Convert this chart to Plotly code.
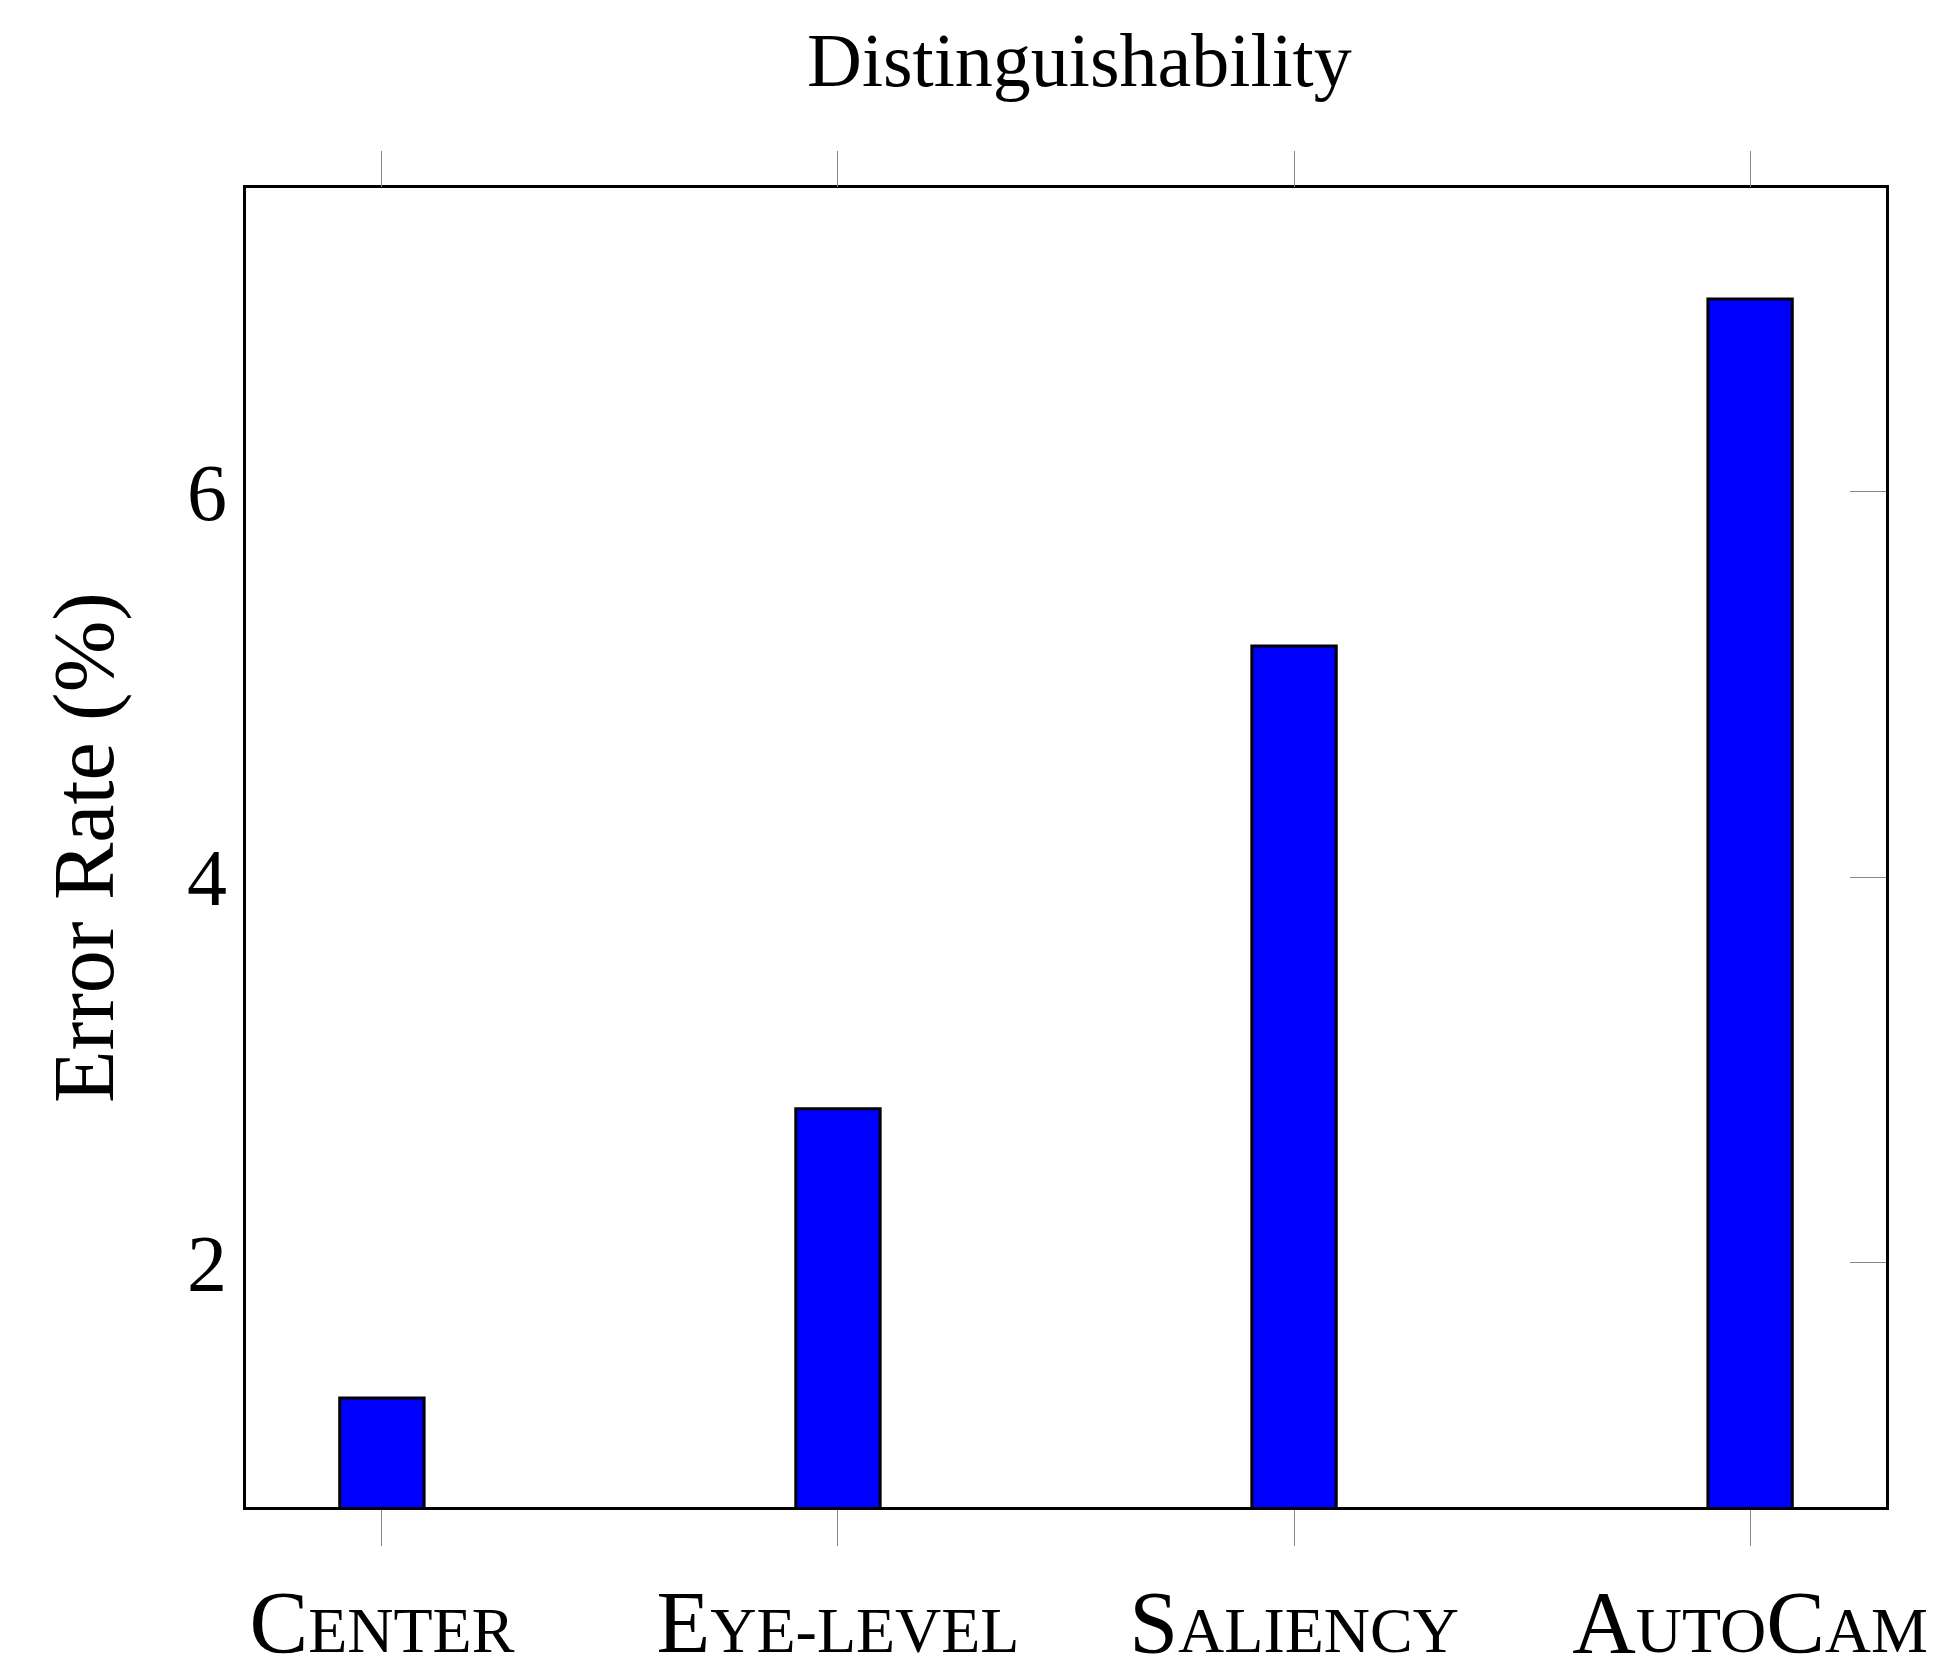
import plotly.graph_objects as go

categories = ["Center", "Eye-level", "Saliency", "AutoCam"]
values = [1.3, 2.8, 5.2, 7.0]
y_ticks = [2, 4, 6]


def small_caps(word, big=86, small=64):
    out = ""
    for ch in word:
        if ch.isupper():
            out += ch
        else:
            out += f"<span style='font-size:{small}px'>{ch.upper()}</span>"
    return out


labels = [small_caps(c) for c in categories]
font = "Liberation Serif"

fig = go.Figure()
fig.add_trace(go.Bar(
    x=list(range(len(categories))), y=values, width=0.185,
    marker=dict(color="#0000ff", line=dict(color="black", width=3)),
    showlegend=False,
))
# invisible trace for the top tick marks
fig.add_trace(go.Scatter(x=list(range(len(categories))), y=values, xaxis="x2", yaxis="y2",
                         mode="markers", marker=dict(opacity=0), showlegend=False, hoverinfo="skip"))

fig.update_layout(
    width=1948, height=1675,
    margin=dict(l=238, r=70, t=180, b=154),
    plot_bgcolor="white", paper_bgcolor="white",
    font=dict(family=font, color="black"),
    title=dict(text="Distinguishability", x=0.55, xanchor="center", y=0.985, yanchor="top",
               font=dict(size=76)),
    xaxis=dict(range=[-0.298, 3.298], tickvals=list(range(len(categories))), ticktext=labels,
               tickfont=dict(size=88), ticks="outside", ticklen=36, tickcolor="#888",
               showline=True, linecolor="black", linewidth=3, mirror=True,
               showgrid=False, zeroline=False),
    xaxis2=dict(range=[-0.298, 3.298], overlaying="x", side="top",
                tickvals=list(range(len(categories))), showticklabels=False,
                ticks="outside", ticklen=36, tickcolor="#888", showgrid=False, zeroline=False),
    yaxis=dict(range=[0.734, 7.576], tickvals=y_ticks, tickfont=dict(size=80),
               ticks="", showline=True, linecolor="black", linewidth=3, mirror=True,
               showgrid=False, zeroline=False,
               title=dict(text="Error Rate (%)", font=dict(size=86), standoff=45)),
    yaxis2=dict(range=[0.734, 7.576], overlaying="y", side="right", tickvals=y_ticks,
                showticklabels=False, ticks="inside", ticklen=36, tickcolor="#888",
                showgrid=False, zeroline=False),
)

fig.write_html("out.html")
